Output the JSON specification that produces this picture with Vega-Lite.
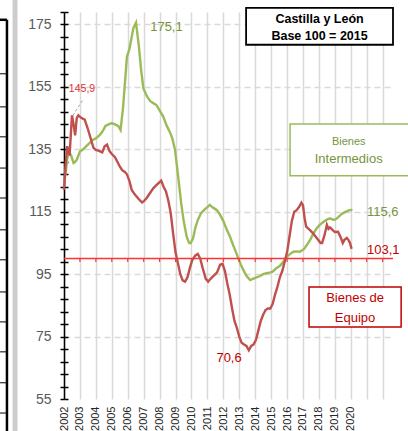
{
  "$schema": "https://vega.github.io/schema/vega-lite/v6.json",
  "width": 329,
  "height": 387,
  "autosize": {"type": "none"},
  "padding": {"left": 64, "top": 12, "right": 15, "bottom": 32},
  "background": "white",
  "config": {"view": {"stroke": null}, "font": "Liberation Sans"},
  "data": {"values": [{}]},
  "datasets": {
    "intermedios": [
      {"t": 2002.0, "v": 125}, {"t": 2002.1, "v": 127}, {"t": 2002.2, "v": 132}, {"t": 2002.3, "v": 134.3},
      {"t": 2002.45, "v": 133}, {"t": 2002.6, "v": 130.6}, {"t": 2002.7, "v": 131}, {"t": 2002.8, "v": 131.6},
      {"t": 2002.9, "v": 133}, {"t": 2003.0, "v": 134.3}, {"t": 2003.2, "v": 135}, {"t": 2003.4, "v": 136},
      {"t": 2003.6, "v": 137}, {"t": 2003.8, "v": 138}, {"t": 2004.0, "v": 138.5}, {"t": 2004.25, "v": 139.6},
      {"t": 2004.45, "v": 141}, {"t": 2004.6, "v": 142.5}, {"t": 2004.8, "v": 143}, {"t": 2005.0, "v": 143.4},
      {"t": 2005.2, "v": 143.0}, {"t": 2005.4, "v": 142.5}, {"t": 2005.55, "v": 141.2}, {"t": 2005.7, "v": 148},
      {"t": 2005.85, "v": 158}, {"t": 2005.95, "v": 164.7}, {"t": 2006.1, "v": 167}, {"t": 2006.25, "v": 171},
      {"t": 2006.35, "v": 173.8}, {"t": 2006.52, "v": 175.6}, {"t": 2006.7, "v": 168}, {"t": 2006.85, "v": 160},
      {"t": 2006.98, "v": 154.6}, {"t": 2007.2, "v": 152}, {"t": 2007.4, "v": 150.5}, {"t": 2007.6, "v": 149.8},
      {"t": 2007.8, "v": 149.2}, {"t": 2008.0, "v": 147.5}, {"t": 2008.23, "v": 145.5}, {"t": 2008.45, "v": 142.5},
      {"t": 2008.65, "v": 140.5}, {"t": 2008.8, "v": 138.5}, {"t": 2008.97, "v": 134.8}, {"t": 2009.15, "v": 127},
      {"t": 2009.35, "v": 118}, {"t": 2009.5, "v": 112.4}, {"t": 2009.7, "v": 107}, {"t": 2009.85, "v": 105},
      {"t": 2009.95, "v": 104.9}, {"t": 2010.1, "v": 106.5}, {"t": 2010.25, "v": 110}, {"t": 2010.4, "v": 112.4},
      {"t": 2010.6, "v": 114.5}, {"t": 2010.8, "v": 115.6}, {"t": 2011.0, "v": 116.5}, {"t": 2011.15, "v": 117.2},
      {"t": 2011.3, "v": 116.5}, {"t": 2011.45, "v": 116}, {"t": 2011.6, "v": 115.5}, {"t": 2011.8, "v": 114},
      {"t": 2012.0, "v": 112}, {"t": 2012.2, "v": 109.5}, {"t": 2012.42, "v": 107}, {"t": 2012.6, "v": 104.5},
      {"t": 2012.8, "v": 102}, {"t": 2012.94, "v": 100.1}, {"t": 2013.1, "v": 98}, {"t": 2013.26, "v": 96.3},
      {"t": 2013.45, "v": 94.5}, {"t": 2013.68, "v": 93.1}, {"t": 2013.85, "v": 93.5}, {"t": 2014.0, "v": 93.8},
      {"t": 2014.3, "v": 94.4}, {"t": 2014.5, "v": 95}, {"t": 2014.7, "v": 95.3}, {"t": 2014.9, "v": 95.5},
      {"t": 2015.1, "v": 95.8}, {"t": 2015.3, "v": 96.8}, {"t": 2015.45, "v": 97.3}, {"t": 2015.6, "v": 97.9},
      {"t": 2015.8, "v": 99.2}, {"t": 2016.0, "v": 100.6}, {"t": 2016.2, "v": 101.5}, {"t": 2016.4, "v": 102.2},
      {"t": 2016.6, "v": 102.3}, {"t": 2016.8, "v": 102.2}, {"t": 2017.0, "v": 102.8}, {"t": 2017.1, "v": 103.3},
      {"t": 2017.3, "v": 104.8}, {"t": 2017.45, "v": 106}, {"t": 2017.65, "v": 108}, {"t": 2017.86, "v": 109.7},
      {"t": 2018.05, "v": 110.8}, {"t": 2018.3, "v": 111.8}, {"t": 2018.5, "v": 112.5}, {"t": 2018.7, "v": 112.9},
      {"t": 2018.85, "v": 112.5}, {"t": 2019.0, "v": 112.4}, {"t": 2019.2, "v": 113.2}, {"t": 2019.43, "v": 114.3},
      {"t": 2019.6, "v": 114.8}, {"t": 2019.8, "v": 115.3}, {"t": 2020.0, "v": 115.6}, {"t": 2020.1, "v": 115.5}
    ],
    "equipo": [
      {"t": 2002.0, "v": 122}, {"t": 2002.1, "v": 130}, {"t": 2002.2, "v": 136}, {"t": 2002.35, "v": 133},
      {"t": 2002.5, "v": 145.9}, {"t": 2002.6, "v": 143}, {"t": 2002.7, "v": 139.5}, {"t": 2002.8, "v": 145},
      {"t": 2002.9, "v": 145.9}, {"t": 2003.1, "v": 145}, {"t": 2003.3, "v": 144.5}, {"t": 2003.5, "v": 141.5},
      {"t": 2003.7, "v": 138}, {"t": 2003.85, "v": 135.5}, {"t": 2004.0, "v": 134.8}, {"t": 2004.2, "v": 134.5},
      {"t": 2004.4, "v": 134}, {"t": 2004.55, "v": 136}, {"t": 2004.7, "v": 136.5}, {"t": 2004.85, "v": 134.5},
      {"t": 2005.0, "v": 133.5}, {"t": 2005.2, "v": 132.5}, {"t": 2005.35, "v": 131}, {"t": 2005.5, "v": 129.5},
      {"t": 2005.65, "v": 128.3}, {"t": 2005.8, "v": 127.8}, {"t": 2005.95, "v": 127}, {"t": 2006.1, "v": 125},
      {"t": 2006.25, "v": 122}, {"t": 2006.45, "v": 120.5}, {"t": 2006.7, "v": 119}, {"t": 2006.9, "v": 118},
      {"t": 2007.0, "v": 118.3}, {"t": 2007.2, "v": 119.5}, {"t": 2007.4, "v": 121}, {"t": 2007.6, "v": 122.5},
      {"t": 2007.8, "v": 123.5}, {"t": 2008.0, "v": 124.5}, {"t": 2008.1, "v": 125}, {"t": 2008.25, "v": 123},
      {"t": 2008.4, "v": 121.5}, {"t": 2008.55, "v": 118.5}, {"t": 2008.7, "v": 114.5}, {"t": 2008.85, "v": 108},
      {"t": 2009.0, "v": 102}, {"t": 2009.15, "v": 98.5}, {"t": 2009.3, "v": 95}, {"t": 2009.45, "v": 93},
      {"t": 2009.6, "v": 92.6}, {"t": 2009.75, "v": 94}, {"t": 2009.9, "v": 97}, {"t": 2010.05, "v": 99.5},
      {"t": 2010.25, "v": 101}, {"t": 2010.4, "v": 101.5}, {"t": 2010.55, "v": 100}, {"t": 2010.7, "v": 97},
      {"t": 2010.9, "v": 93.5}, {"t": 2011.05, "v": 92.6}, {"t": 2011.2, "v": 93.5}, {"t": 2011.4, "v": 94.5},
      {"t": 2011.6, "v": 95.5}, {"t": 2011.8, "v": 98}, {"t": 2011.95, "v": 98.3}, {"t": 2012.1, "v": 96},
      {"t": 2012.25, "v": 92}, {"t": 2012.4, "v": 88.5}, {"t": 2012.55, "v": 84}, {"t": 2012.7, "v": 80},
      {"t": 2012.85, "v": 77.8}, {"t": 2013.0, "v": 75}, {"t": 2013.15, "v": 73}, {"t": 2013.3, "v": 72.5},
      {"t": 2013.45, "v": 72}, {"t": 2013.6, "v": 70.6}, {"t": 2013.75, "v": 72}, {"t": 2013.9, "v": 72.5},
      {"t": 2014.05, "v": 74}, {"t": 2014.2, "v": 77}, {"t": 2014.35, "v": 80}, {"t": 2014.5, "v": 82},
      {"t": 2014.65, "v": 83.5}, {"t": 2014.8, "v": 84}, {"t": 2014.95, "v": 84}, {"t": 2015.1, "v": 85.5},
      {"t": 2015.25, "v": 88.5}, {"t": 2015.4, "v": 91}, {"t": 2015.55, "v": 94}, {"t": 2015.7, "v": 96},
      {"t": 2015.85, "v": 99}, {"t": 2016.0, "v": 102}, {"t": 2016.15, "v": 107}, {"t": 2016.3, "v": 112},
      {"t": 2016.45, "v": 115}, {"t": 2016.6, "v": 115.5}, {"t": 2016.75, "v": 116.5}, {"t": 2016.9, "v": 117.9},
      {"t": 2017.0, "v": 117}, {"t": 2017.1, "v": 113}, {"t": 2017.2, "v": 110.2}, {"t": 2017.35, "v": 109.5},
      {"t": 2017.5, "v": 108.8}, {"t": 2017.65, "v": 108}, {"t": 2017.8, "v": 107}, {"t": 2017.95, "v": 106},
      {"t": 2018.1, "v": 105}, {"t": 2018.2, "v": 105}, {"t": 2018.35, "v": 107.5}, {"t": 2018.5, "v": 110.8},
      {"t": 2018.6, "v": 109.5}, {"t": 2018.7, "v": 110}, {"t": 2018.85, "v": 109.2}, {"t": 2019.0, "v": 108.5},
      {"t": 2019.2, "v": 108.6}, {"t": 2019.35, "v": 107}, {"t": 2019.5, "v": 105}, {"t": 2019.6, "v": 106},
      {"t": 2019.75, "v": 106.6}, {"t": 2019.85, "v": 106}, {"t": 2019.95, "v": 105}, {"t": 2020.05, "v": 103.1}
    ],
    "years": [
      {"year": 2003}, {"year": 2004}, {"year": 2005}, {"year": 2006}, {"year": 2007}, {"year": 2008},
      {"year": 2009}, {"year": 2010}, {"year": 2011}, {"year": 2012}, {"year": 2013}, {"year": 2014},
      {"year": 2015}, {"year": 2016}, {"year": 2017}, {"year": 2018}, {"year": 2019}, {"year": 2020},
      {"year": 2021}, {"year": 2022}
    ],
    "tablerows": [
      {"r": 159.2}, {"r": 148.6}, {"r": 139.0}, {"r": 129.0}, {"r": 119.4}, {"r": 109.2},
      {"r": 99.6}, {"r": 89.3}, {"r": 79.7}, {"r": 70.1}, {"r": 60.2}, {"r": 50.5}
    ]
  },
  "resolve": {"axis": {"x": "independent", "y": "independent"}},
  "layer": [
    {
      "data": {"name": "intermedios"},
      "mark": {"type": "line", "color": "#9bbb59", "strokeWidth": 2.4},
      "encoding": {
        "x": {
          "field": "t", "type": "quantitative",
          "scale": {"domain": [2002, 2022.65], "nice": false, "zero": false},
          "axis": {
            "title": null, "orient": "bottom",
            "values": [2002,2003,2004,2005,2006,2007,2008,2009,2010,2011,2012,2013,2014,2015,2016,2017,2018,2019,2020,2021,2022],
            "format": "d",
            "labelExpr": "datum.value <= 2020 ? datum.label : ''",
            "labelAngle": -90, "labelAlign": "right", "labelBaseline": "middle",
            "labelPadding": 7, "labelFontSize": 11, "labelColor": "#262626", "labelOverlap": false,
            "ticks": false, "domain": false,
            "grid": true, "gridColor": "#d9d9d9", "gridWidth": 1.5
          }
        },
        "y": {
          "field": "v", "type": "quantitative",
          "scale": {"domain": [55, 179], "nice": false, "zero": false},
          "axis": {
            "title": null, "orient": "left",
            "values": [55,59,63,67,71,75,79,83,87,91,95,99,103,107,111,115,119,123,127,131,135,139,143,147,151,155,159,163,167,171,175,179],
            "labelExpr": "(datum.value - 55) % 20 == 0 ? datum.label : ''",
            "labelOverlap": false, "labelFontSize": 14, "labelColor": "#595959", "labelPadding": 9,
            "tickSize": 4, "tickColor": "black", "tickWidth": 1.5,
            "domain": true, "domainColor": "black", "domainWidth": 1.5,
            "grid": true, "gridColor": "#d9d9d9", "gridDash": [6, 4], "gridWidth": 1.5,
            "gridOpacity": {"condition": {"test": "(datum.value - 55) % 20 == 0 && datum.value > 55", "value": 1}, "value": 0}
          }
        }
      }
    },
    {
      "mark": {"type": "rect", "fill": "#cdcdcd"},
      "encoding": {
        "x": {"datum": 1998.77, "axis": null}, "x2": {"datum": 1999.08},
        "y": {"datum": 183, "axis": null}, "y2": {"datum": 44.7}
      }
    },
    {
      "mark": {"type": "rule", "color": "#000000", "strokeWidth": 2.5},
      "encoding": {
        "x": {"datum": 1998.42, "axis": null},
        "y": {"datum": 176.5, "axis": null}, "y2": {"datum": 44.7}
      }
    },
    {
      "mark": {"type": "rule", "color": "#000000", "strokeWidth": 2.5},
      "encoding": {
        "x": {"datum": 1997.9, "axis": null}, "x2": {"datum": 1998.42},
        "y": {"datum": 176.5, "axis": null}
      }
    },
    {
      "data": {"name": "tablerows"},
      "mark": {"type": "rule", "color": "#000000", "strokeWidth": 1},
      "encoding": {
        "x": {"datum": 1997.9, "axis": null}, "x2": {"datum": 1998.42},
        "y": {"field": "r", "type": "quantitative", "axis": null}
      }
    },
    {
      "data": {"name": "years"},
      "mark": {"type": "rule", "color": "#ff3333", "strokeWidth": 1.2},
      "encoding": {
        "x": {"field": "year", "type": "quantitative", "axis": null},
        "y": {"datum": 100, "axis": null},
        "y2": {"datum": 98.9}
      }
    },
    {
      "mark": {"type": "rule", "color": "#ff3333", "strokeWidth": 1.5},
      "encoding": {"y": {"datum": 100, "axis": null}}
    },
    {
      "data": {"name": "equipo"},
      "mark": {"type": "line", "color": "#c0504d", "strokeWidth": 2.4},
      "encoding": {
        "x": {"field": "t", "type": "quantitative", "axis": null},
        "y": {
          "field": "v", "type": "quantitative",
          "axis": {
            "title": null, "orient": "left",
            "values": [55,59,63,67,71,75,79,83,87,91,95,99,103,107,111,115,119,123,127,131,135,139,143,147,151,155,159,163,167,171,175,179],
            "labels": false, "domain": false, "grid": false,
            "tickSize": -4, "tickColor": "black", "tickWidth": 1.5
          }
        }
      }
    },
    {
      "mark": {"type": "rule", "color": "#a6a6a6", "strokeDash": [3, 2], "strokeWidth": 1},
      "encoding": {
        "x": {"datum": 2002.55, "axis": null}, "y": {"datum": 145.8, "axis": null},
        "x2": {"datum": 2003.15}, "y2": {"datum": 150.6}
      }
    },
    {
      "mark": {"type": "rect", "fill": "white", "stroke": "#000000", "strokeWidth": 1.8},
      "encoding": {
        "x": {"datum": 2013.43, "axis": null}, "x2": {"datum": 2022.65},
        "y": {"datum": 180.3, "axis": null}, "y2": {"datum": 168.5}
      }
    },
    {
      "mark": {"type": "rect", "fill": "white", "stroke": "#9bbb59", "strokeWidth": 1.5},
      "encoding": {
        "x": {"datum": 2016.19, "axis": null}, "x2": {"datum": 2023.7},
        "y": {"datum": 143.1, "axis": null}, "y2": {"datum": 126.5}
      }
    },
    {
      "mark": {"type": "rect", "fill": "white", "stroke": "#c00000", "strokeWidth": 1.5},
      "encoding": {
        "x": {"datum": 2017.38, "axis": null}, "x2": {"datum": 2023.16},
        "y": {"datum": 90.9, "axis": null}, "y2": {"datum": 78.1}
      }
    },
    {
      "mark": {"type": "text", "text": "Castilla y León", "fontWeight": "bold", "fontSize": 12.5, "color": "#000000", "align": "center", "baseline": "middle"},
      "encoding": {"x": {"datum": 2018.04, "axis": null}, "y": {"datum": 176.8, "axis": null}}
    },
    {
      "mark": {"type": "text", "text": "Base 100 = 2015", "fontWeight": "bold", "fontSize": 12.5, "color": "#000000", "align": "center", "baseline": "middle"},
      "encoding": {"x": {"datum": 2018.04, "axis": null}, "y": {"datum": 171.2, "axis": null}}
    },
    {
      "mark": {"type": "text", "text": "Bienes", "fontSize": 11, "color": "#77933c", "align": "center", "baseline": "middle"},
      "encoding": {"x": {"datum": 2019.87, "axis": null}, "y": {"datum": 137.5, "axis": null}}
    },
    {
      "mark": {"type": "text", "text": "Intermedios", "fontSize": 13, "color": "#77933c", "align": "center", "baseline": "middle"},
      "encoding": {"x": {"datum": 2019.87, "axis": null}, "y": {"datum": 131.8, "axis": null}}
    },
    {
      "mark": {"type": "text", "text": "Bienes de", "fontSize": 13, "color": "#c00000", "align": "center", "baseline": "middle"},
      "encoding": {"x": {"datum": 2020.27, "axis": null}, "y": {"datum": 87.4, "axis": null}}
    },
    {
      "mark": {"type": "text", "text": "Equipo", "fontSize": 13, "color": "#c00000", "align": "center", "baseline": "middle"},
      "encoding": {"x": {"datum": 2020.27, "axis": null}, "y": {"datum": 81.0, "axis": null}}
    },
    {
      "mark": {"type": "text", "text": "145,9", "fontSize": 10.5, "color": "#e03030", "align": "center", "baseline": "middle"},
      "encoding": {"x": {"datum": 2003.13, "axis": null}, "y": {"datum": 154.4, "axis": null}}
    },
    {
      "mark": {"type": "text", "text": "175,1", "fontSize": 13, "color": "#77933c", "align": "center", "baseline": "middle"},
      "encoding": {"x": {"datum": 2008.43, "axis": null}, "y": {"datum": 174.2, "axis": null}}
    },
    {
      "mark": {"type": "text", "text": "115,6", "fontSize": 13, "color": "#77933c", "align": "left", "baseline": "middle"},
      "encoding": {"x": {"datum": 2021.02, "axis": null}, "y": {"datum": 115.0, "axis": null}}
    },
    {
      "mark": {"type": "text", "text": "103,1", "fontSize": 13, "color": "#c00000", "align": "left", "baseline": "middle"},
      "encoding": {"x": {"datum": 2021.02, "axis": null}, "y": {"datum": 102.8, "axis": null}}
    },
    {
      "mark": {"type": "text", "text": "70,6", "fontSize": 13, "color": "#c00000", "align": "center", "baseline": "middle"},
      "encoding": {"x": {"datum": 2012.36, "axis": null}, "y": {"datum": 68.1, "axis": null}}
    }
  ]
}
